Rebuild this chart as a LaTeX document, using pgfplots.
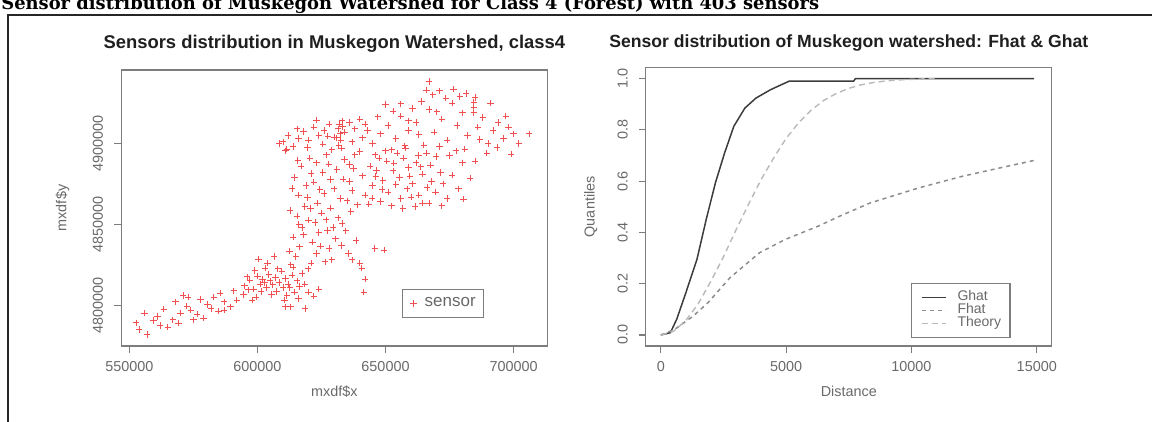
\documentclass[border=0pt]{standalone}
\usepackage{fontspec}
\setmainfont{Liberation Sans}
\newfontfamily\headfont{DejaVu Serif}
\usepackage{pgfplots}
\pgfplotsset{compat=1.18}

\definecolor{axisgray}{RGB}{125,125,125}
\definecolor{labgray}{RGB}{105,105,105}
\definecolor{sensred}{RGB}{240,80,80}
\definecolor{ghatcol}{RGB}{60,60,60}
\definecolor{fhatcol}{RGB}{140,140,140}
\definecolor{theocol}{RGB}{185,185,185}

\pgfplotsset{
  rpanel/.style={
    scale only axis,
    axis line style={axisgray, line width=0.6pt},
    tick align=outside, tick pos=left,
    major tick length=3.5pt,
    every tick/.style={axisgray, line width=0.6pt},
    tick label style={font=\fontsize{7.2}{8}\selectfont, text=labgray},
    label style={font=\fontsize{7.2}{8}\selectfont, text=labgray},
    /pgf/number format/assume math mode=true,
    /pgf/number format/fixed,
    /pgf/number format/1000 sep={},
    scaled ticks=false,
    yticklabel style={rotate=90, anchor=south},
    yticklabel shift=2pt,
    xticklabel shift=0.5pt,
    legend style={draw=axisgray, line width=0.6pt, text=labgray, fill=white},
  }
}

% sensor locations (class 4, forest)
\pgfplotstableread{
x y
552600 4789000
557000 4781800
556000 4795000
561000 4793000
563500 4797500
567000 4791000
570000 4795000
571000 4806000
573000 4805000
568000 4802000
574000 4797000
575000 4791000
579000 4792000
582000 4798000
583000 4805000
587000 4802000
587000 4797000
592000 4803000
598000 4803000
559500 4790500
565000 4786500
572500 4799500
576500 4794500
580500 4800500
585500 4807500
589500 4799000
594500 4806500
553800 4785000
562000 4787500
569200 4788800
577800 4803400
584800 4796200
590800 4808800
596500 4809500
595000 4812000
597000 4815500
598500 4810000
600000 4818000
601000 4813000
602000 4816000
602800 4814000
603500 4811000
604500 4819000
605000 4815000
606000 4812500
607000 4817000
607500 4808500
608500 4814000
609500 4821000
610000 4811000
611000 4816500
612000 4813000
612700 4811000
613500 4818500
614500 4808000
615500 4815000
616500 4811500
617500 4819500
599000 4821500
601500 4808500
603000 4823000
605500 4806500
596000 4817500
608000 4822500
611500 4806000
614000 4823500
618500 4813000
604000 4826000
600500 4828500
606500 4830000
599500 4805000
610500 4803000
613000 4799000
618600 4798000
616000 4804000
620000 4808000
622000 4805500
611000 4799000
624000 4810000
613000 4825000
615000 4830000
616500 4836000
614000 4842000
617500 4848000
615500 4855000
618500 4861000
616000 4868000
619000 4874000
614500 4879000
617000 4886000
620500 4891000
621000 4826000
623000 4832000
621500 4839000
624000 4845000
622500 4851000
625000 4857000
623500 4863000
626000 4869000
622000 4876000
625500 4882000
623000 4888000
627000 4893000
629000 4828000
628000 4835000
630500 4841000
629500 4848000
631500 4854000
628500 4860000
632500 4866000
630000 4872000
633500 4878000
631000 4884000
634000 4890000
635500 4832000
634500 4846000
636500 4858000
637000 4871000
612500 4833500
618000 4843500
620000 4852500
612800 4858500
619500 4866500
621000 4881500
616200 4849800
619800 4822500
626500 4826800
624700 4836500
627300 4846200
626800 4852700
620700 4859800
624400 4871500
628600 4877800
627900 4887200
615800 4889500
613600 4872200
632800 4836800
633000 4850500
635000 4864500
636000 4876500
637500 4884500
638500 4840000
640000 4826000
642000 4816000
641500 4808000
645800 4835000
649400 4834000
637000 4828000
640800 4823000
639000 4862000
642000 4868000
645000 4874000
641000 4880000
644000 4886000
647500 4891000
648000 4864000
651000 4870000
649000 4877000
653000 4883000
650500 4889000
654500 4894000
656000 4866000
658500 4872000
655500 4879000
659000 4885000
657000 4891000
661500 4861000
663000 4868000
660500 4875000
664500 4881000
662000 4888000
666000 4894000
667000 4863000
669500 4870000
668000 4876500
671500 4882000
664400 4863000
638000 4893000
636000 4887000
640000 4895000
643500 4862500
646200 4879500
652300 4861500
654000 4874500
657800 4897000
660000 4866800
662800 4892600
667500 4886500
669800 4892000
672500 4875000
674000 4866000
676000 4880500
678500 4872000
680000 4888000
683000 4878500
646500 4883200
650000 4895500
659500 4879800
666300 4872800
672000 4861500
644800 4866200
653200 4887800
656800 4859800
648700 4871600
663800 4885500
675000 4892500
680500 4865500
685000 4889000
645000 4900000
648000 4906000
651000 4911000
654000 4903000
656000 4917000
659000 4908000
662000 4913000
665000 4899000
667000 4921000
669000 4907000
672000 4915000
674000 4902000
676000 4925000
678000 4911000
680000 4919000
682000 4905000
684500 4922000
684500 4919000
686000 4910000
688000 4916000
690000 4900000
692000 4908000
694000 4913000
696000 4903000
698000 4910000
700000 4906000
702000 4900000
706000 4906000
666980 4938190
666000 4933000
668500 4930000
671000 4932500
673500 4928000
676500 4933500
679000 4929000
681500 4931000
684500 4925500
685000 4928500
650000 4924000
653000 4920000
656000 4924500
659000 4914000
647000 4916500
643000 4908000
660500 4921500
663000 4905500
671000 4898000
677500 4895500
689500 4894000
693500 4897500
697000 4917000
686800 4902500
699000 4893500
691000 4925000
670000 4919500
657500 4898500
652500 4896000
646000 4893000
664000 4926000
681000 4896500
608500 4900000
610000 4901000
612000 4905000
614000 4898000
616000 4903000
618000 4907500
620000 4902000
622000 4910000
624000 4905000
626000 4908000
628000 4912000
630000 4904000
631500 4909000
632000 4912000
632300 4906000
632600 4902000
631800 4899000
633000 4914000
632800 4897000
633300 4910500
631000 4903500
634000 4907000
636000 4913000
638000 4909000
640000 4915000
642000 4912000
611500 4896500
615500 4909000
619500 4897500
625500 4899500
629000 4896000
627500 4904500
623000 4914500
637000 4901000
641000 4903500
611000 4895500
}\sensors

\begin{document}
\begin{tikzpicture}
\path[use as bounding box] (0,0) rectangle (576pt,211pt);
\clip (0,0) rectangle (576pt,211pt);

% page heading and frame
\node[anchor=base west, inner sep=0pt, font=\headfont\bfseries\fontsize{8.95}{10}\selectfont]
  at (0.5pt,206pt) {Sensor distribution of Muskegon Watershed for Class 4 (Forest) with 403 sensors};
\draw[line width=0.75pt, black!85] (4pt,-1pt) -- (4pt,203.5pt) -- (577pt,203.5pt);

% left panel: sensor locations
\begin{axis}[rpanel,
  at={(60.6pt,38pt)}, anchor=south west,
  width=213.1pt, height=138pt,
  xmin=546840, xmax=713190, ymin=4774740, ymax=4945420,
  xtick={550000,600000,650000,700000},
  ytick={4800000,4850000,4900000},
  title={Sensors distribution in Muskegon Watershed, class4},
  every axis title/.style={at={(axis description cs:0.5,1)}, anchor=center, yshift=13pt,
    font=\bfseries\fontsize{9.2}{10}\selectfont, text=black!88},
  xlabel={mxdf\$x}, ylabel={mxdf\$y},
  x label style={at={(axis description cs:0.5,-0.166)}, anchor=center},
  y label style={at={(axis description cs:-0.1377,0.5)}, anchor=center},
  legend style={at={(0.659,0.101)}, anchor=south west, inner xsep=0pt, inner ysep=2pt,
    font=\fontsize{8.5}{8.5}\selectfont, nodes={inner xsep=0pt}},
  legend image code/.code={\path[draw=none, fill=none] (0pt,0pt) -- (11pt,0pt);
    \draw[#1] plot coordinates {(5.5pt,0pt)};},
]
\addplot[only marks, mark=+, mark size=1.6pt, color=sensred, mark options={line width=0.45pt}]
  table[x=x, y=y] {\sensors};
\addlegendentry{sensor\hspace*{4pt}}
\end{axis}

% right panel: nearest-neighbour distance functions
\begin{axis}[rpanel,
  at={(322.9pt,38pt)}, anchor=south west,
  width=203pt, height=139.2pt,
  xmin=-600, xmax=15600, ymin=-0.043, ymax=1.043,
  xtick={0,5000,10000,15000},
  ytick={0,0.2,0.4,0.6,0.8,1.0},
  yticklabel={\pgfmathprintnumber[fixed, fixed zerofill, precision=1]{\tick}},
  title={Sensor distribution of Muskegon watershed: Fhat \& Ghat},
  every axis title/.style={at={(axis description cs:0.5,1)}, anchor=center, yshift=12.5pt,
    font=\bfseries\fontsize{8.8}{10}\selectfont, text=black!88},
  xlabel={Distance}, ylabel={Quantiles},
  x label style={at={(axis description cs:0.5,-0.1645)}, anchor=center},
  y label style={at={(axis description cs:-0.1357,0.5)}, anchor=center},
  legend cell align=left,
  legend style={at={(0.653,0.028)}, anchor=south west, inner xsep=4.5pt, inner ysep=3.8pt,
    font=\fontsize{7}{7}\selectfont,
    nodes={inner ysep=0pt, inner xsep=0pt, text height=4.9pt, text depth=1.6pt},
    row sep=0pt},
  legend image code/.code={\path[draw=none, fill=none] (0pt,0pt) -- (18.5pt,0pt);
    \draw[#1] (0.5pt,0pt) -- (12.5pt,0pt);},
]
\addplot[ghatcol, line width=0.75pt] coordinates {
  (0,0) (382,0.009) (632,0.061) (1000,0.165) (1441,0.295) (1809,0.45)
  (2176,0.593) (2544,0.71) (2912,0.814) (3353,0.885) (3794,0.924)
  (4382,0.957) (5118,0.99) (7691,0.99) (7765,1.0) (14897,1.0)
};
\addlegendentry{Ghat}
\addplot[fhatcol, line width=0.75pt, dash pattern=on 2pt off 2pt] coordinates {
  (0,0) (559,0.022) (1294,0.074) (1882,0.126) (2765,0.224) (3941,0.321)
  (4971,0.373) (6294,0.425) (7103,0.462) (8353,0.515) (10265,0.573)
  (12029,0.619) (13500,0.651) (14897,0.681)
};
\addlegendentry{Fhat}
\addplot[theocol, line width=0.7pt, dash pattern=on 3pt off 2pt] coordinates {
  (0,0) (500,0.014) (1000,0.057) (1500,0.123) (2000,0.21) (2500,0.305)
  (3000,0.41) (3500,0.51) (4000,0.606) (4500,0.69) (5000,0.767)
  (5500,0.828) (6000,0.877) (6500,0.915) (7000,0.942) (7500,0.962)
  (8000,0.976) (8500,0.985) (9000,0.991) (9500,0.995) (10000,0.997)
  (10500,0.999) (11000,1.0)
};
\addlegendentry{Theory}
\end{axis}
\end{tikzpicture}
\end{document}
